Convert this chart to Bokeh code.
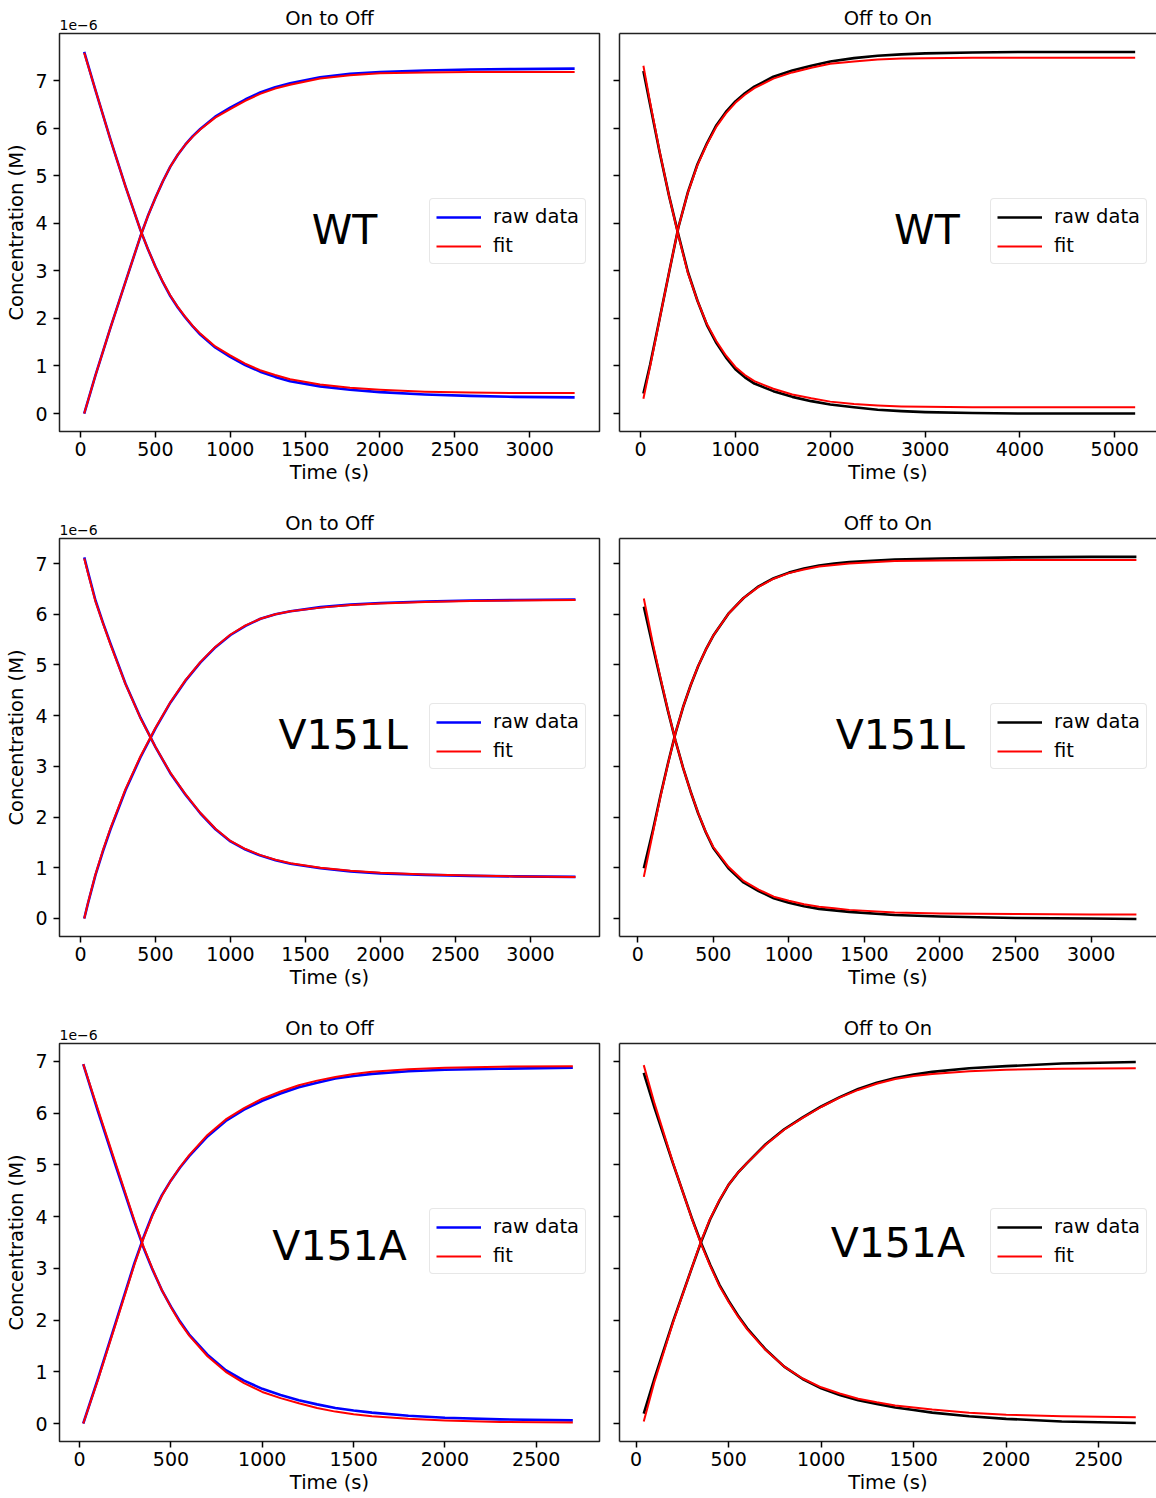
from bokeh.plotting import figure
from bokeh.models import (Range1d, FixedTicker, Legend, LegendItem, Label, LinearAxis, Title,
                          CustomJSTickFormatter, ColumnDataSource)
from bokeh.layouts import column, row
from bokeh.embed import file_html
from bokeh.resources import INLINE

FONT = "DejaVu Sans"

# ---------------- data (concentration in units of 1e-6 M, time in s) ----------------
# WT, On to Off
wt_on_t = [25, 100, 200, 300, 400, 450, 500, 550, 600, 650, 700, 750, 800, 900, 1000, 1100, 1200, 1300, 1400, 1600, 1800, 2000, 2300, 2600, 2900, 3300]
wt_on_rise_raw = [0.00, 0.80, 1.80, 2.76, 3.72, 4.15, 4.53, 4.88, 5.19, 5.44, 5.65, 5.83, 5.98, 6.24, 6.43, 6.60, 6.75, 6.86, 6.94, 7.07, 7.14, 7.18, 7.21, 7.23, 7.24, 7.25]
wt_on_rise_fit = [0.00, 0.80, 1.80, 2.76, 3.72, 4.15, 4.53, 4.88, 5.19, 5.44, 5.65, 5.82, 5.97, 6.22, 6.40, 6.57, 6.72, 6.83, 6.91, 7.04, 7.11, 7.15, 7.17, 7.18, 7.18, 7.18]
wt_on_dec_raw = [7.60, 6.80, 5.76, 4.78, 3.86, 3.46, 3.09, 2.76, 2.47, 2.23, 2.02, 1.83, 1.66, 1.39, 1.19, 1.02, 0.88, 0.77, 0.68, 0.57, 0.50, 0.45, 0.40, 0.37, 0.35, 0.34]
wt_on_dec_fit = [7.58, 6.80, 5.76, 4.78, 3.86, 3.46, 3.09, 2.77, 2.48, 2.24, 2.03, 1.84, 1.68, 1.41, 1.22, 1.05, 0.91, 0.81, 0.72, 0.61, 0.54, 0.50, 0.46, 0.44, 0.43, 0.43]

# WT, Off to On
wt_off_t = [30, 100, 200, 300, 400, 500, 600, 700, 800, 900, 1000, 1100, 1200, 1400, 1600, 1800, 2000, 2250, 2500, 2750, 3000, 3500, 4000, 4500, 5215]
wt_off_rise_raw = [0.42, 1.02, 1.98, 2.96, 3.92, 4.66, 5.24, 5.68, 6.06, 6.34, 6.56, 6.73, 6.87, 7.08, 7.21, 7.31, 7.40, 7.47, 7.52, 7.55, 7.57, 7.59, 7.60, 7.60, 7.60]
wt_off_rise_fit = [0.31, 0.98, 1.97, 2.96, 3.92, 4.65, 5.22, 5.66, 6.03, 6.31, 6.53, 6.70, 6.84, 7.04, 7.17, 7.27, 7.35, 7.40, 7.44, 7.46, 7.47, 7.48, 7.48, 7.48, 7.48]
wt_off_dec_raw = [7.20, 6.50, 5.50, 4.58, 3.75, 2.97, 2.37, 1.86, 1.48, 1.18, 0.93, 0.76, 0.63, 0.47, 0.35, 0.26, 0.19, 0.13, 0.08, 0.05, 0.03, 0.01, 0.00, 0.00, 0.00]
wt_off_dec_fit = [7.31, 6.55, 5.52, 4.58, 3.73, 2.95, 2.37, 1.88, 1.52, 1.22, 0.98, 0.81, 0.68, 0.52, 0.40, 0.32, 0.25, 0.20, 0.17, 0.15, 0.14, 0.13, 0.13, 0.13, 0.13]

# V151L, On to Off
l_on_t = [25, 50, 100, 150, 200, 300, 400, 500, 600, 700, 800, 900, 1000, 1100, 1200, 1300, 1400, 1600, 1800, 2000, 2300, 2600, 2900, 3300]
l_on_rise_raw = [0.00, 0.30, 0.86, 1.33, 1.76, 2.53, 3.18, 3.75, 4.26, 4.69, 5.05, 5.35, 5.59, 5.77, 5.91, 6.00, 6.06, 6.14, 6.19, 6.22, 6.25, 6.27, 6.28, 6.29]
l_on_rise_fit = [0.00, 0.31, 0.87, 1.35, 1.78, 2.55, 3.20, 3.76, 4.27, 4.70, 5.06, 5.36, 5.60, 5.78, 5.91, 6.00, 6.06, 6.13, 6.18, 6.21, 6.24, 6.26, 6.27, 6.28]
l_on_dec_raw = [7.12, 6.83, 6.27, 5.83, 5.42, 4.63, 3.96, 3.38, 2.86, 2.44, 2.07, 1.76, 1.52, 1.36, 1.24, 1.15, 1.08, 0.99, 0.93, 0.89, 0.86, 0.84, 0.83, 0.82]
l_on_dec_fit = [7.10, 6.81, 6.25, 5.82, 5.40, 4.62, 3.95, 3.38, 2.87, 2.45, 2.08, 1.77, 1.53, 1.37, 1.25, 1.16, 1.09, 1.00, 0.94, 0.90, 0.87, 0.85, 0.83, 0.82]

# V151L, Off to On
l_off_t = [40, 100, 150, 200, 250, 300, 350, 400, 450, 500, 600, 700, 800, 900, 1000, 1100, 1200, 1300, 1400, 1700, 2000, 2500, 3000, 3300]
l_off_rise_raw = [0.99, 1.74, 2.42, 3.06, 3.66, 4.17, 4.60, 4.98, 5.30, 5.58, 6.01, 6.32, 6.55, 6.71, 6.82, 6.90, 6.96, 7.00, 7.03, 7.08, 7.10, 7.12, 7.13, 7.13]
l_off_rise_fit = [0.82, 1.69, 2.40, 3.05, 3.66, 4.17, 4.60, 4.98, 5.30, 5.58, 6.01, 6.32, 6.54, 6.70, 6.81, 6.88, 6.94, 6.97, 7.00, 7.05, 7.06, 7.07, 7.07, 7.07]
l_off_dec_raw = [6.15, 5.36, 4.72, 4.09, 3.50, 2.97, 2.50, 2.07, 1.70, 1.39, 0.99, 0.71, 0.54, 0.40, 0.31, 0.24, 0.19, 0.16, 0.13, 0.07, 0.04, 0.01, 0.00, -0.01]
l_off_dec_fit = [6.31, 5.42, 4.75, 4.10, 3.50, 2.97, 2.50, 2.08, 1.71, 1.41, 1.02, 0.74, 0.57, 0.43, 0.35, 0.28, 0.23, 0.20, 0.17, 0.12, 0.10, 0.09, 0.08, 0.08]

# V151A, On to Off
a_on_t = [20, 100, 200, 300, 350, 400, 450, 500, 550, 600, 700, 800, 900, 1000, 1100, 1200, 1300, 1400, 1500, 1600, 1800, 2000, 2300, 2700]
a_on_rise_raw = [0.00, 0.86, 1.98, 3.10, 3.60, 4.05, 4.41, 4.70, 4.95, 5.17, 5.55, 5.85, 6.07, 6.24, 6.38, 6.50, 6.59, 6.67, 6.72, 6.76, 6.81, 6.84, 6.86, 6.88]
a_on_rise_fit = [0.00, 0.84, 1.95, 3.07, 3.58, 4.03, 4.40, 4.70, 4.96, 5.19, 5.58, 5.88, 6.10, 6.28, 6.42, 6.54, 6.63, 6.70, 6.76, 6.80, 6.85, 6.88, 6.90, 6.91]
a_on_dec_raw = [6.95, 6.04, 4.96, 3.90, 3.40, 2.97, 2.58, 2.26, 1.97, 1.72, 1.33, 1.03, 0.83, 0.67, 0.55, 0.45, 0.37, 0.30, 0.25, 0.21, 0.15, 0.11, 0.08, 0.06]
a_on_dec_fit = [6.95, 6.08, 5.00, 3.93, 3.42, 2.98, 2.58, 2.25, 1.95, 1.70, 1.30, 1.00, 0.78, 0.61, 0.49, 0.39, 0.30, 0.23, 0.18, 0.14, 0.09, 0.06, 0.03, 0.02]

# V151A, Off to On
a_off_t = [41, 100, 200, 300, 350, 400, 450, 500, 550, 600, 700, 800, 900, 1000, 1100, 1200, 1300, 1400, 1500, 1600, 1800, 2000, 2300, 2700]
a_off_rise_raw = [0.19, 0.88, 1.98, 3.00, 3.50, 3.95, 4.31, 4.62, 4.85, 5.04, 5.40, 5.69, 5.92, 6.13, 6.31, 6.47, 6.59, 6.68, 6.75, 6.80, 6.87, 6.91, 6.96, 6.99]
a_off_rise_fit = [0.04, 0.82, 1.96, 3.00, 3.52, 3.96, 4.32, 4.62, 4.85, 5.04, 5.39, 5.68, 5.91, 6.12, 6.30, 6.45, 6.57, 6.66, 6.72, 6.76, 6.81, 6.84, 6.86, 6.87]
a_off_dec_raw = [6.78, 6.10, 5.02, 3.98, 3.50, 3.07, 2.68, 2.37, 2.09, 1.84, 1.43, 1.10, 0.86, 0.68, 0.55, 0.45, 0.38, 0.31, 0.26, 0.21, 0.14, 0.09, 0.04, 0.01]
a_off_dec_fit = [6.93, 6.18, 5.03, 3.97, 3.48, 3.05, 2.66, 2.35, 2.07, 1.82, 1.42, 1.10, 0.87, 0.70, 0.58, 0.48, 0.41, 0.35, 0.31, 0.27, 0.21, 0.17, 0.14, 0.12]

ticks_3000 = [0, 500, 1000, 1500, 2000, 2500, 3000]
ticks_5000 = [0, 1000, 2000, 3000, 4000, 5000]
ticks_2500 = [0, 500, 1000, 1500, 2000, 2500]
y_ticks = [0, 1, 2, 3, 4, 5, 6, 7]


def set_standoff(obj, val, fallback):
    try:
        obj.standoff = val
    except Exception:
        obj.standoff = fallback


def panel(title, t, rise_raw, rise_fit, dec_raw, dec_fit, raw_color, xr, yr, xticks,
          name, name_x, name_y, left, height, top_border, bottom_border):
    width = 609 if left else 547
    p = figure(width=width, height=height, x_range=Range1d(*xr), y_range=Range1d(*yr),
               toolbar_location=None, output_backend="svg",
               min_border_left=59 if left else 10, min_border_right=10 if left else 0,
               min_border_top=top_border, min_border_bottom=bottom_border,
               background_fill_color="white", border_fill_color="white")
    p.title.text = title
    p.title.align = "center"
    p.title.text_font = FONT
    p.title.text_font_size = "19.5px"
    p.title.text_font_style = "normal"
    p.title.text_color = "black"
    p.xgrid.visible = False
    p.ygrid.visible = False

    src = ColumnDataSource(dict(t=t, rr=rise_raw, rf=rise_fit, dr=dec_raw, df=dec_fit))
    r_raw = p.line("t", "rr", source=src, line_color=raw_color, line_width=2.6, line_join="round")
    p.line("t", "dr", source=src, line_color=raw_color, line_width=2.6, line_join="round")
    r_fit = p.line("t", "rf", source=src, line_color="#ff0000", line_width=2.0, line_join="round")
    p.line("t", "df", source=src, line_color="#ff0000", line_width=2.0, line_join="round")

    for ax in (p.xaxis[0], p.yaxis[0]):
        ax.major_tick_out = 6
        ax.major_tick_in = 0
        ax.major_tick_line_width = 1.5
        ax.major_tick_line_color = "black"
        ax.minor_tick_line_color = None
        ax.major_label_text_font = FONT
        ax.major_label_text_font_size = "19px"
        ax.major_label_text_color = "black"
        ax.axis_label_text_font = FONT
        ax.axis_label_text_font_size = "19.5px"
        ax.axis_label_text_font_style = "normal"
        ax.axis_label_text_color = "black"
    p.xaxis.ticker = FixedTicker(ticks=xticks)
    p.yaxis.ticker = FixedTicker(ticks=y_ticks)
    p.xaxis.axis_label = "Time (s)"
    p.xaxis.major_label_standoff = 4
    p.xaxis.axis_label_standoff = 2

    if left:
        p.outline_line_color = "#222222"
        p.outline_line_width = 1.5
        p.xaxis.axis_line_color = None
        p.yaxis.axis_line_color = None
        p.yaxis.axis_label = "Concentration (M)"
        p.yaxis.major_label_standoff = 6
        p.yaxis.axis_label_standoff = 4
        # offset text above the top-left corner, in its own title strip next to the frame
        off = Title(text="1e\u22126", align="left", text_font=FONT, text_font_size="14px",
                    text_font_style="normal", text_color="black", offset=0)
        set_standoff(off, 8, 8)
        p.add_layout(off, "above")
        set_standoff(p.title, -32, 0)
    else:
        set_standoff(p.title, 7, 7)
        p.outline_line_color = None
        p.xaxis.axis_line_color = "#222222"
        p.xaxis.axis_line_width = 1.5
        p.yaxis.axis_line_color = "#222222"
        p.yaxis.axis_line_width = 1.5
        p.yaxis.formatter = CustomJSTickFormatter(code="return ''")
        p.yaxis.major_label_standoff = 0
        top = LinearAxis(ticker=FixedTicker(ticks=[]), major_tick_out=0, major_tick_in=0,
                         minor_tick_out=0, minor_tick_in=0, major_label_standoff=0,
                         axis_line_color="#222222", axis_line_width=1.5)
        p.add_layout(top, "above")

    p.add_layout(Label(x=name_x, y=name_y, text=name, text_font=FONT, text_font_size="41px",
                       text_align="center", text_baseline="middle", text_color="black"))

    legend = Legend(items=[LegendItem(label="raw data", renderers=[r_raw]),
                           LegendItem(label="fit", renderers=[r_fit])],
                    location=(370 if left else 371, 167))
    legend.label_text_font = FONT
    legend.label_text_font_size = "19.5px"
    legend.label_text_color = "black"
    legend.glyph_width = 45
    legend.glyph_height = 20
    legend.label_standoff = 12
    legend.label_height = 20
    legend.padding = 6
    legend.spacing = 6
    legend.margin = 0
    legend.border_line_color = "#d0d0d0"
    legend.border_line_width = 1.5
    legend.background_fill_color = "white"
    legend.background_fill_alpha = 0.85
    if "border_radius" in Legend.properties():
        legend.border_radius = 4
    p.add_layout(legend)
    return p


H1, H2, H3 = 505, 505, 488
p1 = panel("On to Off", wt_on_t, wt_on_rise_raw, wt_on_rise_fit, wt_on_dec_raw, wt_on_dec_fit,
           "#0000ff", (-140, 3466), (-0.378, 7.988), ticks_3000, "WT", 1764, 3.85, True, H1, 33, 74)
p2 = panel("Off to On", wt_off_t, wt_off_rise_raw, wt_off_rise_fit, wt_off_dec_raw, wt_off_dec_fit,
           "#000000", (-222, 5440), (-0.378, 7.988), ticks_5000, "WT", 3019, 3.85, False, H1, 33, 74)
p3 = panel("On to Off", l_on_t, l_on_rise_raw, l_on_rise_fit, l_on_dec_raw, l_on_dec_fit,
           "#0000ff", (-140, 3460), (-0.355, 7.493), ticks_3000, "V151L", 1751, 3.61, True, H2, 33, 74)
p4 = panel("Off to On", l_off_t, l_off_rise_raw, l_off_rise_fit, l_off_dec_raw, l_off_dec_fit,
           "#000000", (-121, 3433), (-0.355, 7.493), ticks_3000, "V151L", 1738, 3.61, False, H2, 33, 74)
p5 = panel("On to Off", a_on_t, a_on_rise_raw, a_on_rise_fit, a_on_dec_raw, a_on_dec_fit,
           "#0000ff", (-110, 2846), (-0.348, 7.348), ticks_2500, "V151A", 1423, 3.44, True, H3, 33, 57)
p6 = panel("Off to On", a_off_t, a_off_rise_raw, a_off_rise_fit, a_off_dec_raw, a_off_dec_fit,
           "#000000", (-90, 2812), (-0.348, 7.348), ticks_2500, "V151A", 1414, 3.50, False, H3, 33, 57)

layout = column(row(p1, p2), row(p3, p4), row(p5, p6))

with open("out.html", "w") as f:
    f.write(file_html(layout, INLINE))
